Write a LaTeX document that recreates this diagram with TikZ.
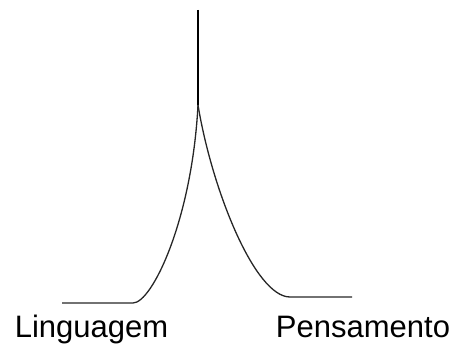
\documentclass[tikz,border=0pt]{standalone}
\usepackage{fontspec}
\setmainfont{Liberation Sans}
\usepackage{tikz}

\begin{document}
\begin{tikzpicture}[
  x=1pt,y=-1pt,
  stem/.style={draw=black,line width=2.8pt},
  branch/.style={draw=black!85,line width=1.3pt},
  lbl/.style={font=\fontsize{31}{37}\selectfont,inner sep=0pt,anchor=base},
]
\useasboundingbox (0,0) rectangle (451,347);

\coordinate (top) at (198,10);
\coordinate (fork) at (198,105);
\coordinate (lfoot) at (133,303);
\coordinate (lend) at (62,303);
\coordinate (rfoot) at (290,297);
\coordinate (rend) at (352,297);

\draw[stem] (top) -- (fork);
\draw[branch] (fork) .. controls (192,220) and (152,303) .. (lfoot) -- (lend);
\draw[branch] (fork) .. controls (212,190) and (255,297) .. (rfoot) -- (rend);

\node[lbl] (ling) at (91.5,338) {Linguagem};
\node[lbl] (pens) at (363,338) {Pensamento};
\end{tikzpicture}
\end{document}
